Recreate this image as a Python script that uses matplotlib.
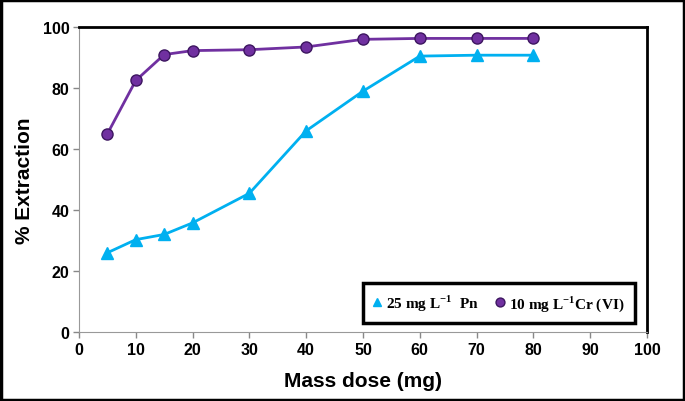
import matplotlib.pyplot as plt
from matplotlib.patches import Rectangle

# Dataset declaration
dose = [5, 10, 15, 20, 30, 40, 50, 60, 70, 80]
pn_extraction = [26.0, 30.3, 32.0, 35.8, 45.5, 66.0, 79.0, 90.5, 90.8, 90.8]
cr_extraction = [65.0, 82.5, 91.0, 92.3, 92.6, 93.5, 96.0, 96.3, 96.3, 96.3]

x_ticks = [0, 10, 20, 30, 40, 50, 60, 70, 80, 90, 100]
y_ticks = [0, 20, 40, 60, 80, 100]

plt.rcParams['font.family'] = ['Liberation Sans Narrow', 'Liberation Sans', 'DejaVu Sans']
plt.rcParams['mathtext.fontset'] = 'custom'
plt.rcParams['mathtext.rm'] = 'Liberation Serif'
plt.rcParams['mathtext.bf'] = 'Liberation Serif:bold'

fig = plt.figure(figsize=(6.85, 4.02), dpi=100)
ax = fig.add_axes([0.1153, 0.1716, 0.8292, 0.7584])

ax.plot(dose, pn_extraction, '^-', color='#00B0F0', linewidth=2, markersize=8,
        label=r'25 mg L$^{\mathbf{-1}}$  Pn')
ax.plot(dose, cr_extraction, 'o-', color='#7030A0', linewidth=2, markersize=8,
        markeredgecolor='#3d1660', markeredgewidth=1,
        label=r'10 mg L$^{\mathbf{-1}}$Cr (VI)')

ax.set_xlim(0, 100)
ax.set_ylim(0, 100)
ax.set_xticks(x_ticks)
ax.set_yticks(y_ticks)
for lbl in ax.get_xticklabels() + ax.get_yticklabels():
    lbl.set_fontweight('bold')
    lbl.set_fontsize(11.5)
ax.tick_params(direction='out', length=4, width=1, color='#888888', pad=3)

ax.spines['left'].set_color('#999999')
ax.spines['bottom'].set_color('#999999')
ax.spines['top'].set_linewidth(2)
ax.spines['right'].set_linewidth(2)
ax.spines['top'].set_color('black')
ax.spines['right'].set_color('black')

ax.set_xlabel('Mass dose (mg)', fontsize=15, fontweight='bold', labelpad=10)
ax.set_ylabel('% Extraction', fontsize=15, fontweight='bold', labelpad=6)

leg = ax.legend(loc='lower right', bbox_to_anchor=(0.992, 0.005), ncol=2,
                frameon=True, fancybox=False, framealpha=1, handlelength=0.6,
                handletextpad=0.3, columnspacing=1.1, borderpad=0.65,
                markerscale=0.8,
                prop={'family': 'Liberation Serif', 'weight': 'bold', 'size': 11})
leg.get_frame().set_edgecolor('black')
leg.get_frame().set_linewidth(2.5)
for h in leg.legend_handles:
    h.set_linestyle('')

fig.patches.append(Rectangle((0.002, 0.003), 0.996, 0.994, transform=fig.transFigure,
                             fill=False, edgecolor='black', linewidth=2.5))

plt.savefig('out.png', dpi=100)
